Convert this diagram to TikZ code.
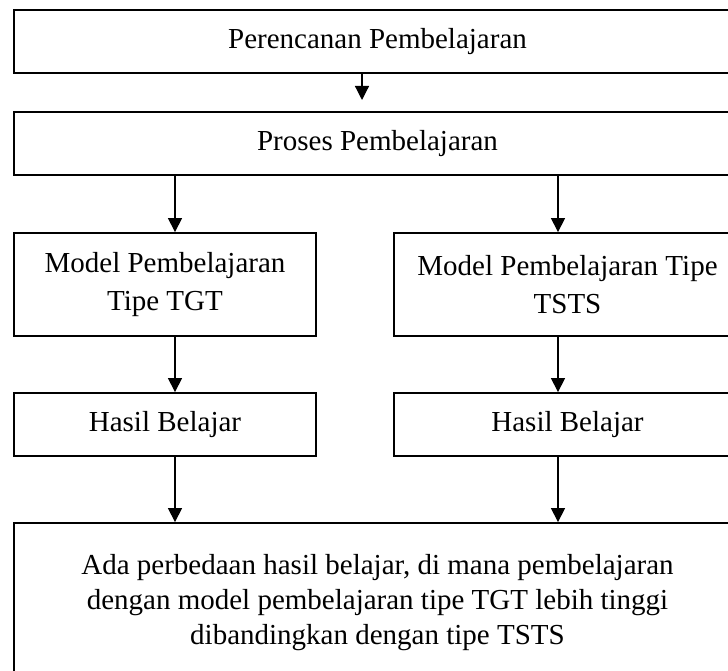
\documentclass[tikz,border=0pt]{standalone}
\usepackage{fontspec}
\setmainfont{Liberation Serif}
\usetikzlibrary{arrows.meta}
\begin{document}
\begin{tikzpicture}[x=1pt, y=-1pt,
    >={Triangle[length=14pt,width=14pt]},
    kotak/.style={draw, line width=1.8pt, inner sep=0pt, align=center,
        font=\fontsize{29}{38}\selectfont},
    panah/.style={->, line width=1.2pt}]
    \useasboundingbox (0,0) rectangle (728,671);

    % Kotak atas
    \node[kotak, minimum width=727pt, minimum height=63pt] (rencana) at (377.5,41.5) {Perencanan Pembelajaran};
    \node[kotak, minimum width=727pt, minimum height=63pt] (proses) at (377.5,143.5) {Proses Pembelajaran};

    % Dua model pembelajaran
    \node[kotak, minimum width=302pt, minimum height=103pt] (tgt) at (165,284.5) {Model Pembelajaran\\Tipe TGT};
    \node[kotak, minimum width=347pt, minimum height=103pt] (tsts) at (567.5,284.5) {Model Pembelajaran Tipe\\TSTS};
    \node[kotak, minimum width=302pt, minimum height=63pt] (hasil1) at (165,424.5) {Hasil Belajar};
    \node[kotak, minimum width=347pt, minimum height=63pt] (hasil2) at (567.5,424.5) {Hasil Belajar};

    % Kesimpulan
    \node[kotak, minimum width=727pt, minimum height=160pt, font=\fontsize{29}{35}\selectfont] (simpulan) at (377.5,603)
        {Ada perbedaan hasil belajar, di mana pembelajaran\\dengan model pembelajaran tipe TGT lebih tinggi\\dibandingkan dengan tipe TSTS};

    % Panah
    \coordinate (atas) at (362,100);
    \coordinate (k1) at ([xshift=10pt]tgt.north);
    \coordinate (k2) at ([xshift=-9.5pt]tsts.north);
    \draw[panah] (rencana.south -| atas) -- (atas);
    \draw[panah] (k1 |- proses.south) -- (k1);
    \draw[panah] (k2 |- proses.south) -- (k2);
    \draw[panah] (tgt.south -| k1) -- (hasil1.north -| k1);
    \draw[panah] (tsts.south -| k2) -- (hasil2.north -| k2);
    \draw[panah] (hasil1.south -| k1) -- (simpulan.north -| k1);
    \draw[panah] (hasil2.south -| k2) -- (simpulan.north -| k2);
\end{tikzpicture}
\end{document}
